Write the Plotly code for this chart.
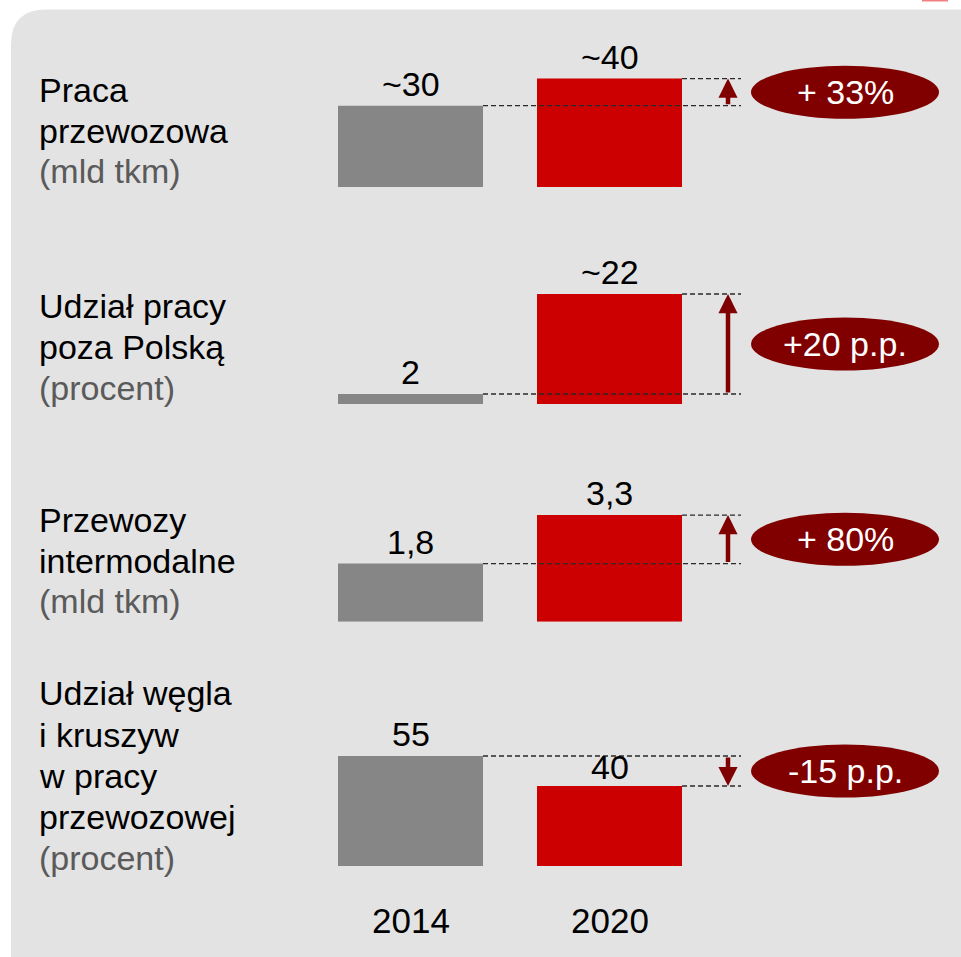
import plotly.graph_objects as go

# ---------------- data ----------------
years = ["2014", "2020"]
row_titles = [
    ["Praca", "przewozowa"],
    ["Udział pracy", "poza Polską"],
    ["Przewozy", "intermodalne"],
    ["Udział węgla", "i kruszyw", "w pracy", "przewozowej"],
]
row_units = ["(mld tkm)", "(procent)", "(mld tkm)", "(procent)"]
values_2014 = [30, 2, 1.8, 55]
values_2020 = [40, 22, 3.3, 40]
labels_2014 = ["~30", "2", "1,8", "55"]
labels_2020 = ["~40", "~22", "3,3", "40"]
change_labels = ["+ 33%", "+20 p.p.", "+ 80%", "-15 p.p."]

# ---------------- layout constants ----------------
W, H = 961, 957
FONT = "Liberation Sans, Arial, sans-serif"
GRAY = "#868686"
RED = "#CC0000"
DARK = "#800000"
BG = "#E3E3E3"

c0 = 410.5            # pixel centre of first category
step = 199.0          # pixels between categories
def px2x(p):
    return (p - c0) / step
xrange_ = [px2x(0), px2x(W)]
bar_w = 145 / step
x_dash_end = px2x(741)
x_arrow = px2x(728)
x_ell0, x_ell1 = px2x(751), px2x(939)
x_ell_c = (x_ell0 + x_ell1) / 2

# per row: base pixel, pixels per unit, top of domain pixel
rows_geom = [(187, 2.71, 20), (404, 5.0, 230), (621.7, 32.3, 450), (866, 2.0, 680)]
title_y = [[90, 131, 171], [306, 347, 388], [520, 561, 601], [693, 735, 776, 817, 858]]

fig = go.Figure()
shapes, annotations = [], []

# background panel with rounded top-left corner
L, T, R = 11 / W, 1 - 9.5 / H, 1.0
rx, ry = 35 / W, 35 / H
shapes.append(dict(
    type="path", xref="paper", yref="paper", layer="below",
    path=f"M {L},0 L {L},{T-ry} Q {L},{T} {L+rx},{T} L {R},{T} L {R},0 Z",
    fillcolor=BG, line=dict(width=0)))
shapes.append(dict(type="rect", xref="paper", yref="paper", layer="below",
                   x0=922 / W, x1=948 / W, y0=1 - 1.5 / H, y1=1.0,
                   fillcolor="#F08080", line=dict(width=0)))

for i in range(4):
    k = "" if i == 0 else str(i + 1)
    xa, ya = "x" + k, "y" + k
    base, ppu, top = rows_geom[i]
    v1, v2 = values_2014[i], values_2020[i]
    fig.add_trace(go.Bar(
        x=years, y=[v1, v2], width=bar_w, marker=dict(color=[GRAY, RED], line=dict(width=0)),
        xaxis=xa, yaxis=ya, hoverinfo="skip"))
    fig.layout["xaxis" + k] = dict(domain=[0, 1], range=xrange_, visible=False,
                                   anchor=ya, type="category", categoryarray=years,
                                   fixedrange=True)
    fig.layout["yaxis" + k] = dict(domain=[1 - base / H, 1 - top / H],
                                   range=[0, (base - top) / ppu], visible=False,
                                   anchor=xa, fixedrange=True)
    # value labels
    for xi, (v, t) in enumerate([(v1, labels_2014[i]), (v2, labels_2020[i])]):
        annotations.append(dict(x=xi, y=v, xref=xa, yref=ya, text=t, showarrow=False,
                                yanchor="middle", yshift=22 if not (i == 3 and xi == 1) else 19,
                                font=dict(family=FONT, size=34, color="#000")))
    # dashed guide lines
    for xi, v in enumerate([v1, v2]):
        shapes.append(dict(type="line", xref=xa, yref=ya, x0=xi + bar_w / 2, x1=x_dash_end,
                           y0=v, y1=v, line=dict(color="#2A2A2A", width=1.3, dash="5px,3px")))
    # arrow
    annotations.append(dict(x=x_arrow, y=v2, ax=x_arrow, ay=v1, xref=xa, yref=ya,
                            axref=xa, ayref=ya, text="", showarrow=True, arrowhead=2,
                            arrowsize=0.85, arrowwidth=4.5, arrowcolor=DARK, standoff=0))
    # ellipse + label
    mid = (v1 + v2) / 2
    shapes.append(dict(type="circle", xref=xa, yref=ya, x0=x_ell0, x1=x_ell1,
                       ysizemode="pixel", yanchor=mid, y0=-26.5, y1=26.5,
                       fillcolor=DARK, line=dict(width=0)))
    annotations.append(dict(x=x_ell_c, y=mid, xref=xa, yref=ya, text=change_labels[i],
                            showarrow=False, yanchor="middle",
                            font=dict(family=FONT, size=34, color="#FFFFFF")))
    # row titles
    lines = row_titles[i] + [row_units[i]]
    for j, line in enumerate(lines):
        is_unit = j == len(lines) - 1
        annotations.append(dict(x=37 / W, y=1 - title_y[i][j] / H, xref="paper", yref="paper",
                                text=line, showarrow=False, xanchor="left", yanchor="middle",
                                font=dict(family=FONT, size=34,
                                          color="#5A5A5A" if is_unit else "#000000")))

# year labels
for xi, yr in enumerate(years):
    annotations.append(dict(x=xi, y=1 - 920 / H, xref="x4", yref="paper", text=yr,
                            showarrow=False, yanchor="middle",
                            font=dict(family=FONT, size=35, color="#000")))

fig.update_layout(
    width=W, height=H, autosize=False,
    margin=dict(l=0, r=0, t=0, b=0, pad=0),
    paper_bgcolor="#FFFFFF", plot_bgcolor="rgba(0,0,0,0)",
    showlegend=False, shapes=shapes, annotations=annotations,
    font=dict(family=FONT),
)

fig.write_html("out.html", config={"displayModeBar": False},
               post_script="document.body.style.margin='0';document.body.style.overflow='hidden';")
